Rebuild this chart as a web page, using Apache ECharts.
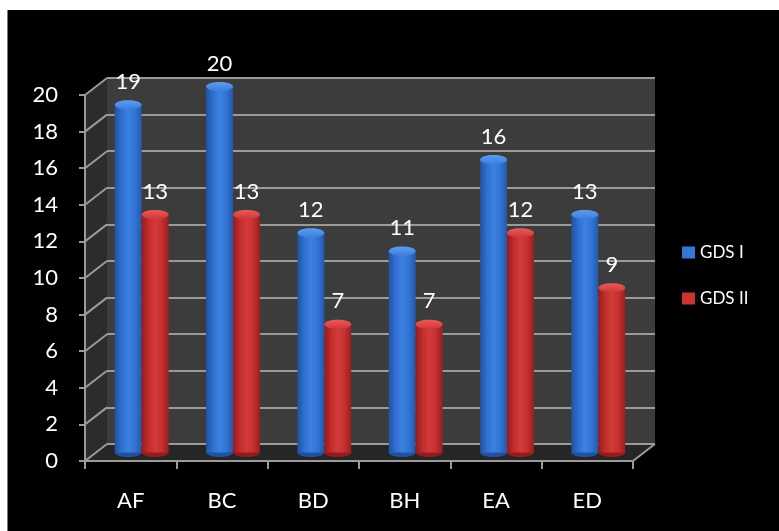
<!DOCTYPE html>
<html>
<head>
<meta charset="utf-8">
<script src="https://cdn.jsdelivr.net/npm/echarts@6/dist/echarts.min.js"></script>
<style>
  html, body { margin: 0; padding: 0; background: #ffffff; }
  #wrap { position: relative; width: 779px; height: 531px; overflow: hidden; background: #ffffff; }
  #panel { position: absolute; left: 7px; top: 10px; right: 0; bottom: 0; background: #000000; border-left: 1px solid #7a7a7a; }
  #chart { position: absolute; left: 0; top: 0; width: 779px; height: 531px; }
</style>
</head>
<body>
<div id="wrap">
  <div id="panel"></div>
  <div id="chart"></div>
</div>
<script>
// Categories and values per series
const categories = ['AF', 'BC', 'BD', 'BH', 'EA', 'ED'];
const gdsI = [19, 20, 12, 11, 16, 13];
const gdsII = [13, 13, 7, 7, 12, 9];
const seriesNames = ['GDS I', 'GDS II'];
const yMin = 0, yMax = 20, yStep = 2;

// Oblique 3D box: front plane, mid plane (bars), back plane (wall)
const FRONT = { left: 85, top: 95, width: 548, height: 366 };
const DEPTH_X = 22, DEPTH_Y = -17;
const MID = { left: FRONT.left + DEPTH_X / 2, top: FRONT.top + DEPTH_Y / 2, width: FRONT.width, height: FRONT.height };
const BACK = { left: FRONT.left + DEPTH_X, top: FRONT.top + DEPTH_Y, width: FRONT.width, height: FRONT.height };

const FONT = 'Lato, "Open Sans", sans-serif';
const LINE = '#9a9a9a';

const palettes = [
  { // blue cylinder
    body: ['#2152a0', '#2f6fcf', '#3b82e2', '#3274d4', '#2458aa'],
    cap: ['#5e9cf0', '#3a7edc'],
    base: '#2152a0'
  },
  { // red cylinder
    body: ['#961c1c', '#c02c2c', '#d43a3a', '#c43030', '#9a1e1e'],
    cap: ['#ea5a5a', '#d03636'],
    base: '#961c1c'
  }
];

function cylinder(seriesIdx) {
  const pal = palettes[seriesIdx];
  return function (params, api) {
    const i = api.value(0);
    const v = api.value(1);
    const top = api.coord([i, v]);
    const base = api.coord([i, 0]);
    const band = api.size([1, 0])[0];
    const w = band * 0.295;
    const cx = top[0] + (seriesIdx === 0 ? -w / 2 : w / 2);
    const ry = w * 0.17;
    const stops = pal.body.map((c, k) => ({ offset: k / (pal.body.length - 1), color: c }));
    return {
      type: 'group',
      children: [
        { type: 'ellipse', shape: { cx: cx, cy: base[1], rx: w / 2, ry: ry }, style: { fill: pal.base } },
        {
          type: 'rect',
          shape: { x: cx - w / 2, y: top[1], width: w, height: base[1] - top[1] },
          style: { fill: { type: 'linear', x: 0, y: 0, x2: 1, y2: 0, colorStops: stops } }
        },
        {
          type: 'ellipse',
          shape: { cx: cx, cy: top[1], rx: w / 2, ry: ry },
          style: { fill: { type: 'linear', x: 0, y: 0, x2: 0, y2: 1, colorStops: [{ offset: 0, color: pal.cap[0] }, { offset: 1, color: pal.cap[1] }] } }
        },
        {
          type: 'text',
          x: cx, y: top[1] - 12,
          style: { text: String(v), fill: '#ffffff', font: '22px ' + FONT, align: 'center', verticalAlign: 'bottom' }
        }
      ]
    };
  };
}

// Side wall, floor and their edge lines, built on the front axes
function frame(params, api) {
  const cs = params.coordSys;
  const x0 = cs.x, x1 = cs.x + cs.width;
  const yBottom = api.coord([0, yMin])[1];
  const yTop = api.coord([0, yMax])[1];
  const children = [];
  children.push({
    type: 'polygon',
    shape: { points: [[x0, yBottom], [x0, yTop], [x0 + DEPTH_X, yTop + DEPTH_Y], [x0 + DEPTH_X, yBottom + DEPTH_Y]] },
    style: { fill: '#2c2c2c' }
  });
  children.push({
    type: 'polygon',
    shape: { points: [[x0, yBottom], [x1, yBottom], [x1 + DEPTH_X, yBottom + DEPTH_Y], [x0 + DEPTH_X, yBottom + DEPTH_Y]] },
    style: { fill: '#262626' }
  });
  for (let v = yMin; v <= yMax; v += yStep) {
    const y = api.coord([0, v])[1];
    children.push({
      type: 'line',
      shape: { x1: x0, y1: y, x2: x0 + DEPTH_X, y2: y + DEPTH_Y },
      style: { stroke: LINE, lineWidth: 2 }
    });
  }
  children.push({
    type: 'line',
    shape: { x1: x1, y1: yBottom, x2: x1 + DEPTH_X, y2: yBottom + DEPTH_Y },
    style: { stroke: LINE, lineWidth: 2 }
  });
  return { type: 'group', children: children };
}

const chart = echarts.init(document.getElementById('chart'), null, { renderer: 'canvas' });

const hiddenCat = { type: 'category', data: categories, show: false };
const hiddenVal = { type: 'value', min: yMin, max: yMax, interval: yStep, show: false };

chart.setOption({
  backgroundColor: 'transparent',
  animation: false,
  grid: [
    Object.assign({}, FRONT),
    Object.assign({}, MID),
    Object.assign({ show: true, backgroundColor: '#3c3c3c', borderWidth: 0 }, BACK)
  ],
  legend: {
    orient: 'vertical',
    left: 677, top: 239,
    itemWidth: 13, itemHeight: 12,
    itemGap: 29,
    icon: 'rect',
    data: seriesNames,
    textStyle: { color: '#ffffff', fontSize: 17, fontFamily: FONT }
  },
  xAxis: [
    {
      type: 'category', data: categories, gridIndex: 0, z: 5,
      axisLine: { lineStyle: { color: LINE, width: 2 } },
      axisTick: { show: true, length: 8, lineStyle: { color: LINE, width: 2 } },
      axisLabel: { color: '#ffffff', fontSize: 22, fontFamily: FONT, margin: 29 }
    },
    Object.assign({ gridIndex: 1 }, hiddenCat),
    Object.assign({ gridIndex: 2 }, hiddenCat)
  ],
  yAxis: [
    {
      type: 'value', min: yMin, max: yMax, interval: yStep, gridIndex: 0, z: 5,
      axisLine: { show: true, lineStyle: { color: LINE, width: 2 } },
      axisTick: { show: true, length: 6, lineStyle: { color: LINE, width: 2 } },
      splitLine: { show: false },
      axisLabel: { color: '#ffffff', fontSize: 22, fontFamily: FONT, margin: 27 }
    },
    Object.assign({ gridIndex: 1 }, hiddenVal),
    {
      type: 'value', min: yMin, max: yMax, interval: yStep, gridIndex: 2, z: 2,
      axisLine: { show: false }, axisTick: { show: false }, axisLabel: { show: false },
      splitLine: { show: true, lineStyle: { color: LINE, width: 2 } }
    }
  ],
  series: [
    {
      type: 'custom', name: 'frame', xAxisIndex: 0, yAxisIndex: 0, z: 1,
      silent: true, renderItem: frame, data: [[0, 0]]
    },
    {
      type: 'custom', name: seriesNames[0], xAxisIndex: 1, yAxisIndex: 1, z: 3,
      itemStyle: { color: '#3478d6' },
      renderItem: cylinder(0),
      data: gdsI.map((v, i) => [i, v])
    },
    {
      type: 'custom', name: seriesNames[1], xAxisIndex: 1, yAxisIndex: 1, z: 3,
      itemStyle: { color: '#cc3434' },
      renderItem: cylinder(1),
      data: gdsII.map((v, i) => [i, v])
    }
  ]
});
</script>
</body>
</html>
